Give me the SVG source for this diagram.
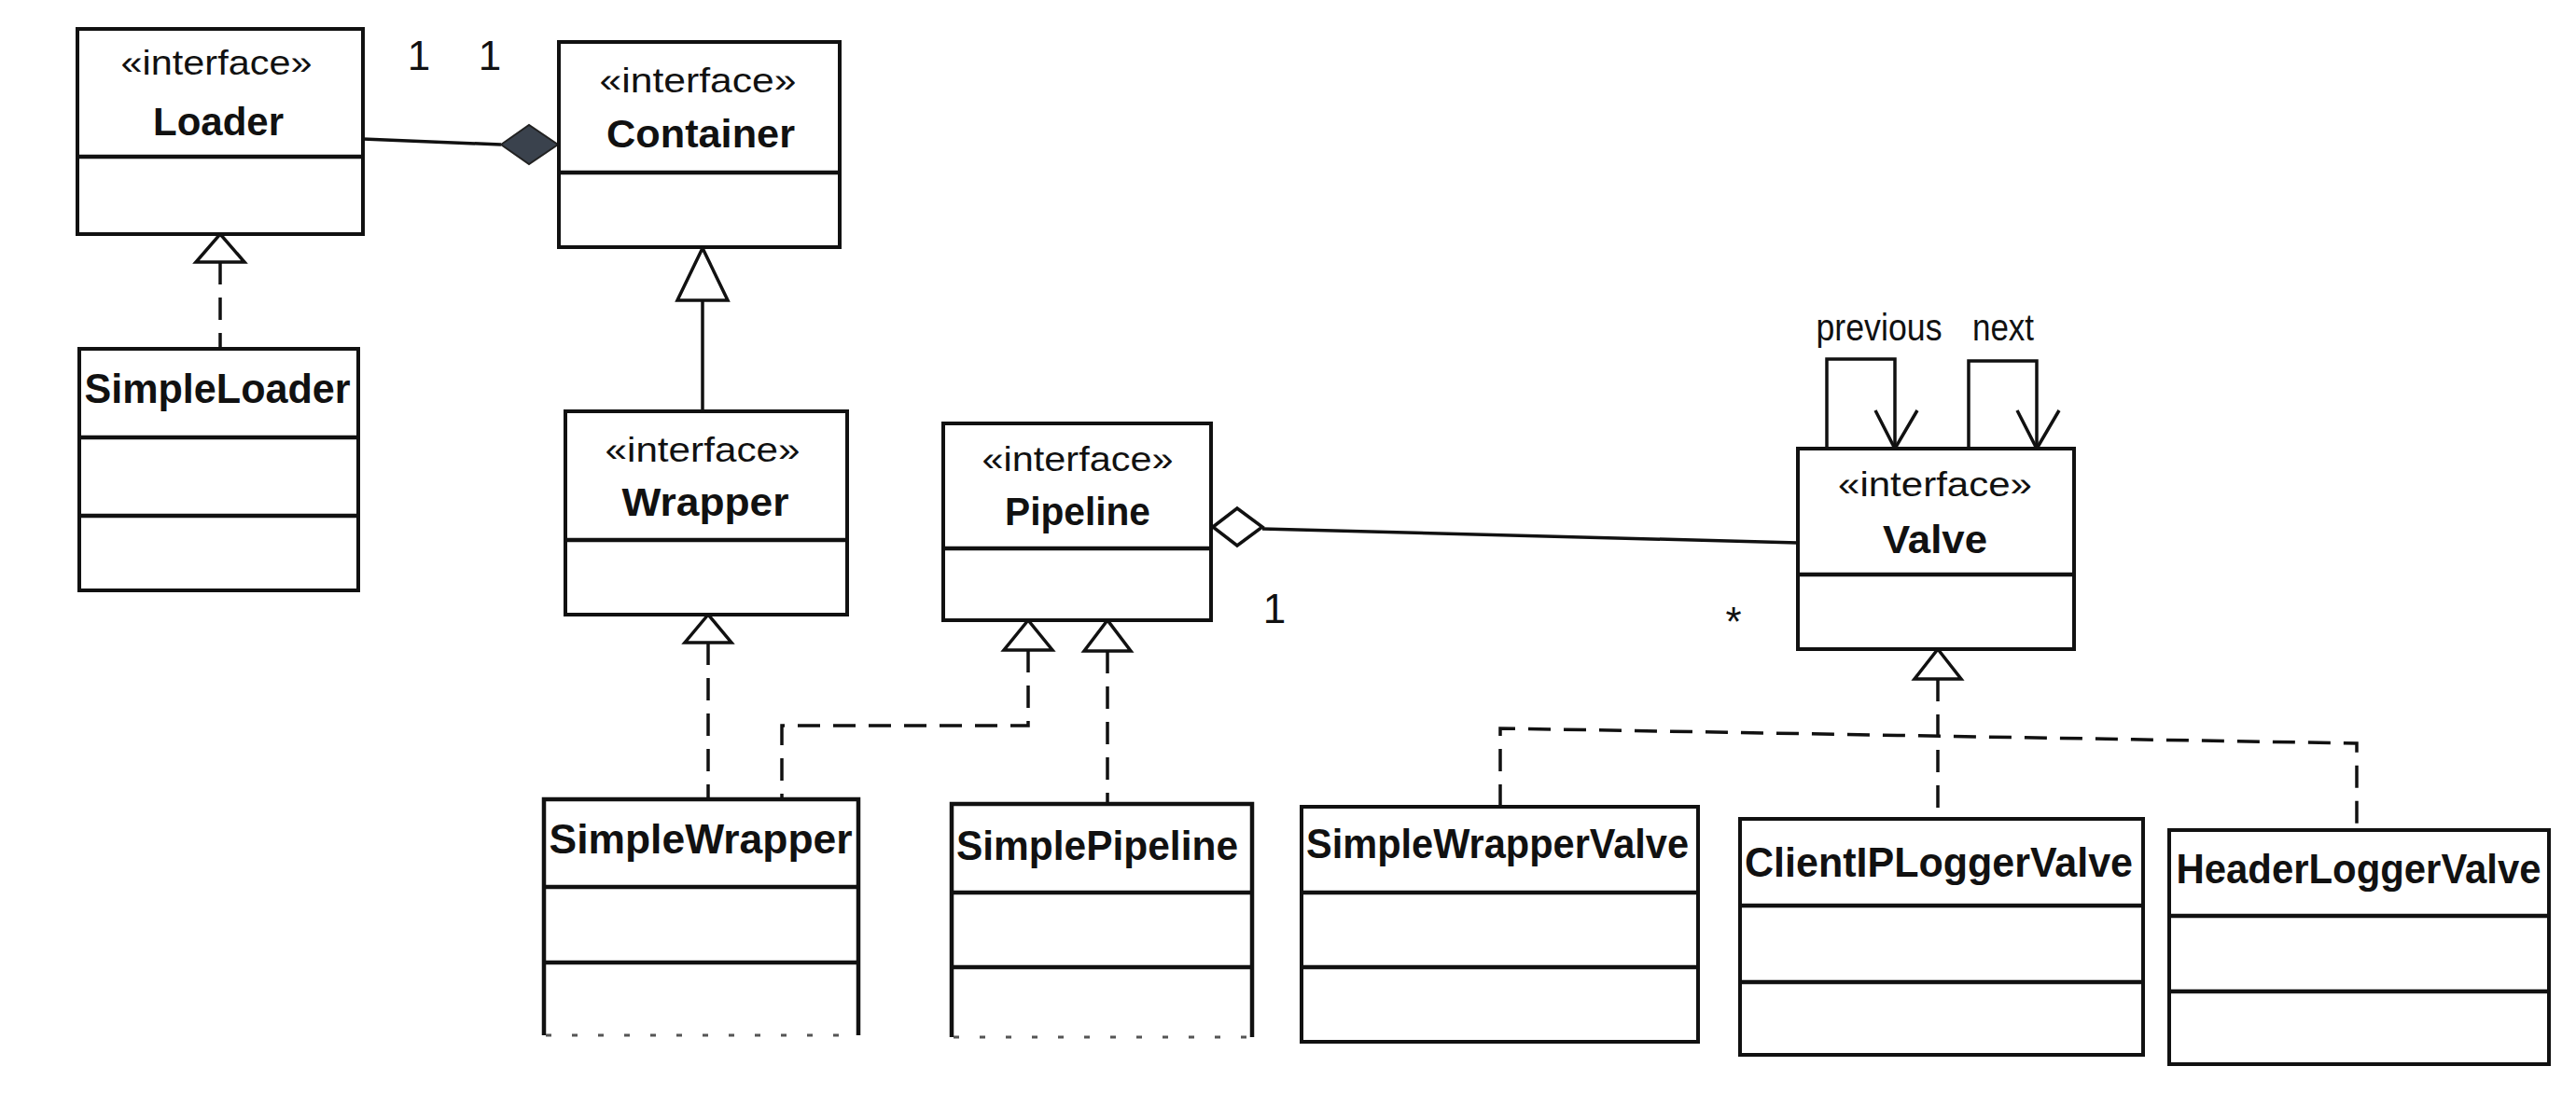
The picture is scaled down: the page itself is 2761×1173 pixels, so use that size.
<svg xmlns="http://www.w3.org/2000/svg" width="2761" height="1173" viewBox="0 0 2761 1173">
<style>
.box{fill:#fff;stroke:#111;stroke-width:4}
.div{stroke:#111;stroke-width:4.5;fill:none}
.st{font-family:"Liberation Sans",Arial,sans-serif;font-size:36px;fill:#111;text-anchor:middle}
.nm{font-family:"Liberation Sans",Arial,sans-serif;font-size:42px;font-weight:bold;fill:#111;text-anchor:middle}
.nm2{font-family:"Liberation Sans",Arial,sans-serif;font-size:45px;font-weight:bold;fill:#111;text-anchor:middle}
.lbl{font-family:"Liberation Sans",Arial,sans-serif;font-size:40px;fill:#111;text-anchor:middle}
.mul{font-family:"Liberation Sans",Arial,sans-serif;font-size:44px;fill:#111;text-anchor:middle}
.ln{stroke:#111;stroke-width:3.5;fill:none}
.dl{stroke:#111;stroke-width:3.5;fill:none;stroke-dasharray:24 14}
.tri{fill:#fff;stroke:#111;stroke-width:3.5;stroke-linejoin:miter}
.faint{stroke:#555;stroke-width:3;fill:none;stroke-dasharray:6 22}
</style>
<rect width="2761" height="1173" fill="#fff"/>

<g id="connectors">
  <!-- Loader - Container composition -->
  <line class="ln" x1="389" y1="149" x2="537" y2="155"/>
  <polygon points="537,155 567,134 598,155 567,176" fill="#3a424d" stroke="#222" stroke-width="2"/>
  <text class="mul" x="449" y="75">1</text>
  <text class="mul" x="525" y="75">1</text>
  <!-- Wrapper generalizes Container -->
  <line class="ln" x1="753" y1="322" x2="753" y2="441"/>
  <polygon class="tri" points="753,266 726,322 780,322"/>
  <!-- SimpleLoader realizes Loader -->
  <line class="dl" x1="236" y1="281" x2="236" y2="374"/>
  <polygon class="tri" points="236,251 210,281 262,281"/>
  <!-- SimpleWrapper realizes Wrapper -->
  <line class="dl" x1="759" y1="689" x2="759" y2="857"/>
  <polygon class="tri" points="759,659 734,689 784,689"/>
  <!-- SimpleWrapper realizes Pipeline -->
  <path class="dl" d="M1102,697 V778 H838 V857"/>
  <polygon class="tri" points="1102,665 1076,697 1128,697"/>
  <!-- SimplePipeline realizes Pipeline -->
  <line class="dl" x1="1187" y1="698" x2="1187" y2="862"/>
  <polygon class="tri" points="1187,665 1162,698 1212,698"/>
  <!-- Pipeline aggregates Valve -->
  <line class="ln" x1="1353" y1="567" x2="1927" y2="582"/>
  <polygon class="tri" points="1300,565 1326,545 1353,565 1326,585"/>
  <text class="mul" x="1366" y="668">1</text>
  <text class="mul" x="1858" y="682">*</text>
  <!-- Valve self associations -->
  <path class="ln" d="M1958,481 V385 H2031 V481"/>
  <path class="ln" d="M2010,440 L2031,481 L2055,440"/>
  <path class="ln" d="M2110,481 V387 H2183 V481"/>
  <path class="ln" d="M2162,440 L2183,481 L2207,440"/>
  <text class="lbl" x="2014" y="365" textLength="135" lengthAdjust="spacingAndGlyphs">previous</text>
  <text class="lbl" x="2147" y="365" textLength="66" lengthAdjust="spacingAndGlyphs">next</text>
  <!-- Valve realizations -->
  <polygon class="tri" points="2077,696 2052,728 2102,728"/>
  <line class="dl" x1="2077" y1="728" x2="2077" y2="878"/>
  <path class="dl" d="M1608,865 V781 L2526,797 V890"/>
</g>

<g id="Loader">
  <rect class="box" x="83" y="31" width="306" height="220"/>
  <line class="div" x1="83" y1="168" x2="389" y2="168"/>
  <text class="st" x="232" y="80" textLength="205" lengthAdjust="spacingAndGlyphs">«interface»</text>
  <text class="nm" x="234" y="145" textLength="140" lengthAdjust="spacingAndGlyphs">Loader</text>
</g>
<g id="Container">
  <rect class="box" x="599" y="45" width="301" height="220"/>
  <line class="div" x1="599" y1="185" x2="900" y2="185"/>
  <text class="st" x="748" y="99" textLength="211" lengthAdjust="spacingAndGlyphs">«interface»</text>
  <text class="nm" x="751" y="158" textLength="202" lengthAdjust="spacingAndGlyphs">Container</text>
</g>
<g id="SimpleLoader">
  <rect class="box" x="85" y="374" width="299" height="259"/>
  <line class="div" x1="85" y1="469" x2="384" y2="469"/>
  <line class="div" x1="85" y1="553" x2="384" y2="553"/>
  <text class="nm2" x="233" y="432" textLength="285" lengthAdjust="spacingAndGlyphs">SimpleLoader</text>
</g>
<g id="Wrapper">
  <rect class="box" x="606" y="441" width="302" height="218"/>
  <line class="div" x1="606" y1="579" x2="908" y2="579"/>
  <text class="st" x="753" y="495" textLength="209" lengthAdjust="spacingAndGlyphs">«interface»</text>
  <text class="nm" x="756" y="553" textLength="179" lengthAdjust="spacingAndGlyphs">Wrapper</text>
</g>
<g id="Pipeline">
  <rect class="box" x="1011" y="454" width="287" height="211"/>
  <line class="div" x1="1011" y1="588" x2="1298" y2="588"/>
  <text class="st" x="1155" y="505" textLength="205" lengthAdjust="spacingAndGlyphs">«interface»</text>
  <text class="nm" x="1155" y="563" textLength="156" lengthAdjust="spacingAndGlyphs">Pipeline</text>
</g>
<g id="Valve">
  <rect class="box" x="1927" y="481" width="296" height="215"/>
  <line class="div" x1="1927" y1="616" x2="2223" y2="616"/>
  <text class="st" x="2074" y="532" textLength="208" lengthAdjust="spacingAndGlyphs">«interface»</text>
  <text class="nm" x="2074" y="593" textLength="112" lengthAdjust="spacingAndGlyphs">Valve</text>
</g>
<g id="SimpleWrapper">
  <path class="div" d="M583,1110 V857 H920 V1110"/>
  <line class="div" x1="583" y1="951" x2="920" y2="951"/>
  <line class="div" x1="583" y1="1032" x2="920" y2="1032"/>
  <line class="faint" x1="585" y1="1110" x2="918" y2="1110"/>
  <text class="nm2" x="751" y="915" textLength="325" lengthAdjust="spacingAndGlyphs">SimpleWrapper</text>
</g>
<g id="SimplePipeline">
  <path class="div" d="M1020,1112 V862 H1342 V1112"/>
  <line class="div" x1="1020" y1="957" x2="1342" y2="957"/>
  <line class="div" x1="1020" y1="1037" x2="1342" y2="1037"/>
  <line class="faint" x1="1022" y1="1112" x2="1340" y2="1112" stroke="#bbb"/>
  <text class="nm2" x="1176" y="922" textLength="302" lengthAdjust="spacingAndGlyphs">SimplePipeline</text>
</g>
<g id="SimpleWrapperValve">
  <rect class="box" x="1395" y="865" width="425" height="252"/>
  <line class="div" x1="1395" y1="957" x2="1820" y2="957"/>
  <line class="div" x1="1395" y1="1037" x2="1820" y2="1037"/>
  <text class="nm2" x="1605" y="920" textLength="410" lengthAdjust="spacingAndGlyphs">SimpleWrapperValve</text>
</g>
<g id="ClientIPLoggerValve">
  <rect class="box" x="1865" y="878" width="432" height="253"/>
  <line class="div" x1="1865" y1="971" x2="2297" y2="971"/>
  <line class="div" x1="1865" y1="1053" x2="2297" y2="1053"/>
  <text class="nm2" x="2078" y="940" textLength="416" lengthAdjust="spacingAndGlyphs">ClientIPLoggerValve</text>
</g>
<g id="HeaderLoggerValve">
  <rect class="box" x="2325" y="890" width="407" height="251"/>
  <line class="div" x1="2325" y1="982" x2="2732" y2="982"/>
  <line class="div" x1="2325" y1="1063" x2="2732" y2="1063"/>
  <text class="nm2" x="2528" y="947" textLength="391" lengthAdjust="spacingAndGlyphs">HeaderLoggerValve</text>
</g>
</svg>
